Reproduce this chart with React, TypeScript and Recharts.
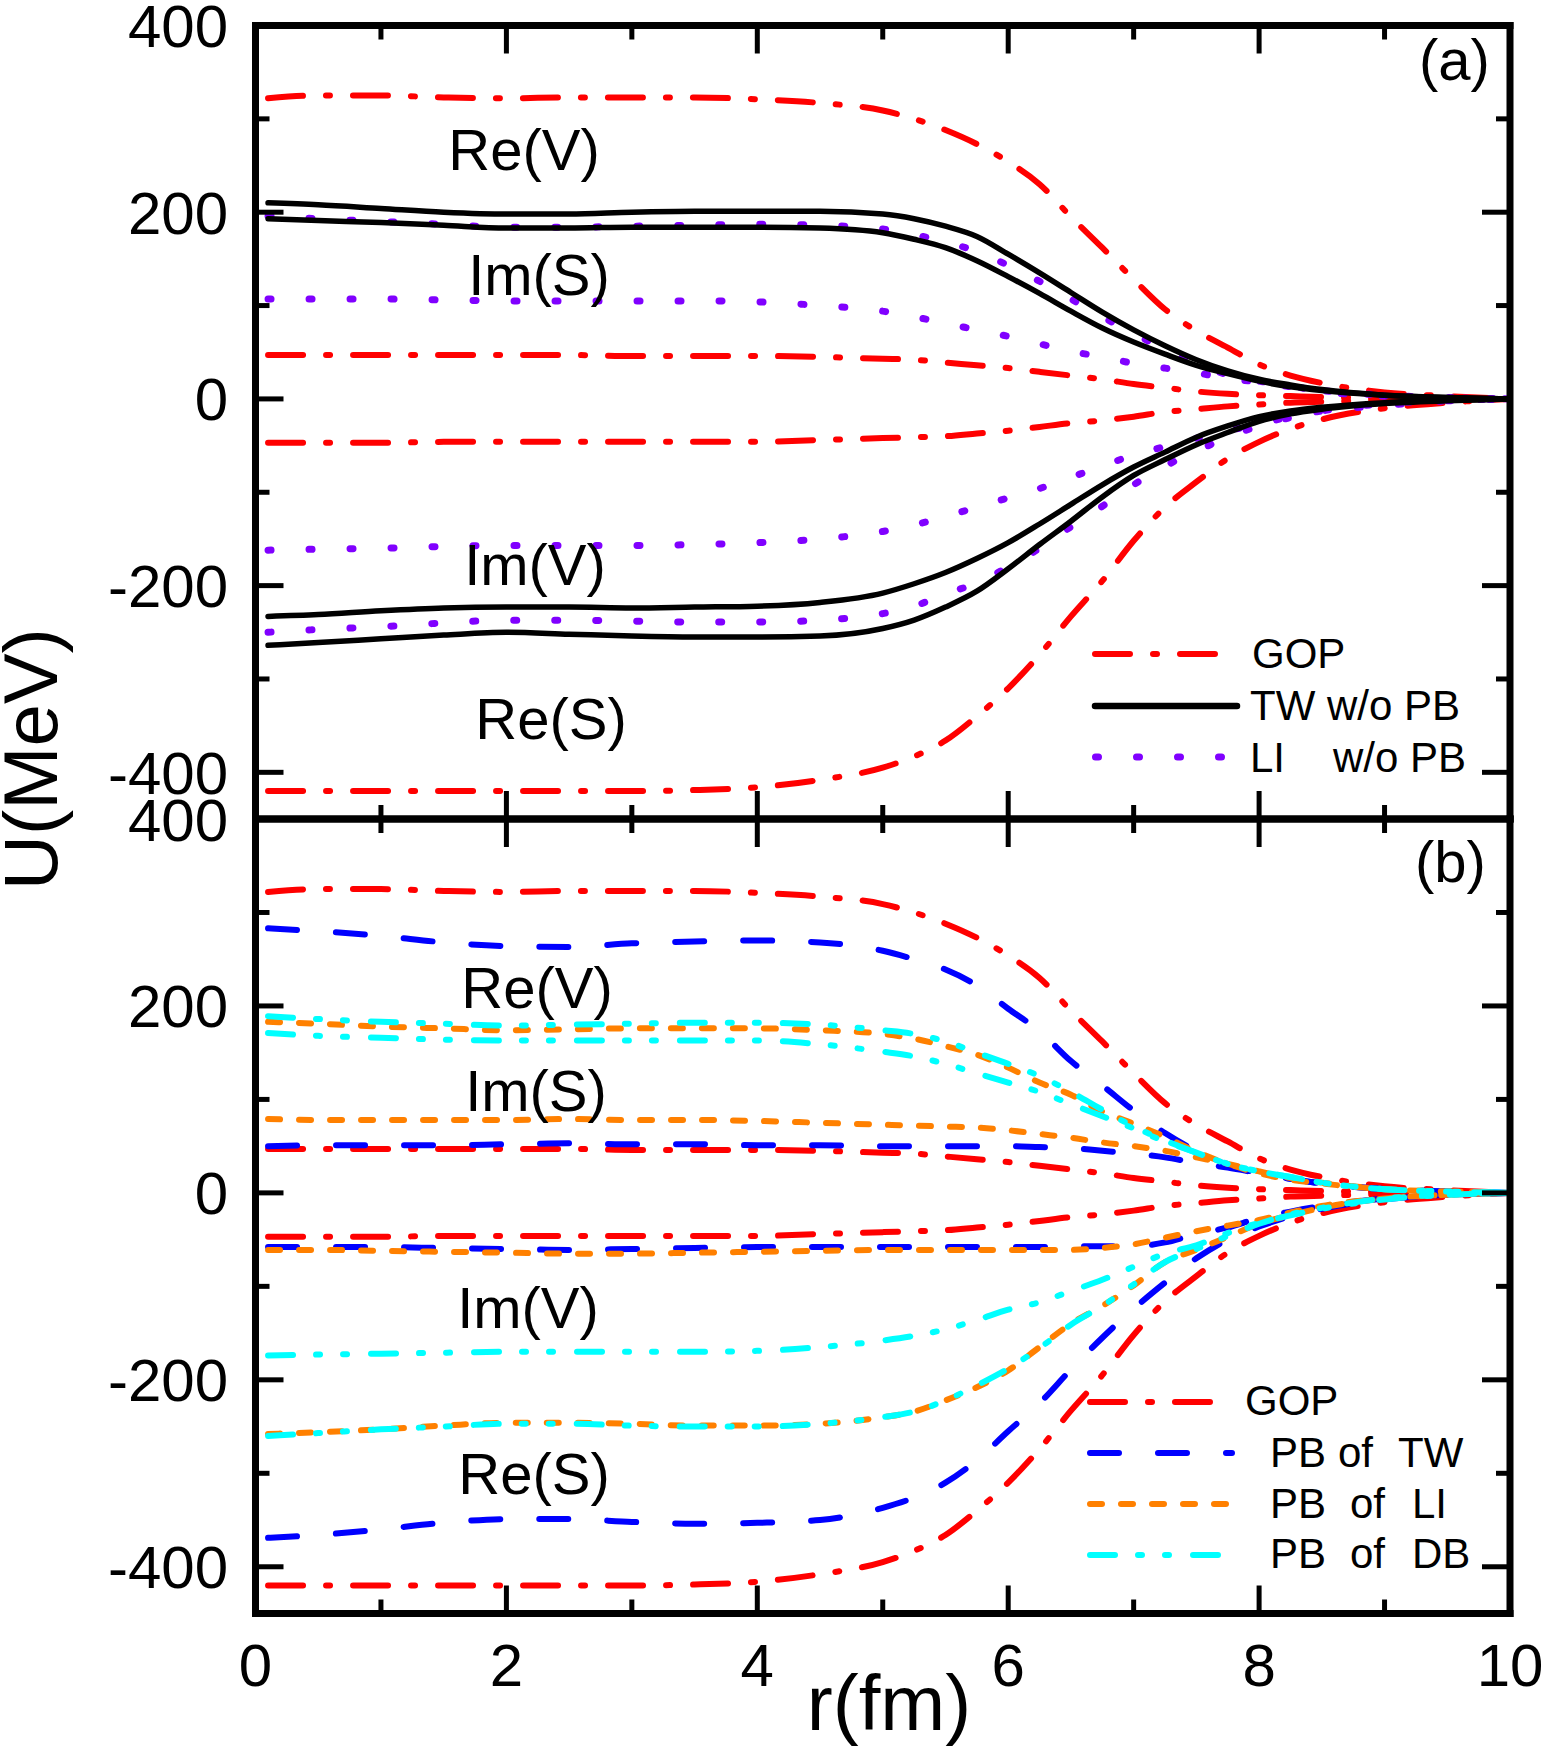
import React from 'react';
import { LineChart, Line, XAxis, YAxis } from 'recharts';

const FONT = '"Liberation Sans", Arial, Helvetica, sans-serif';

// ---------- data ----------
const rGrid = [0.1, 0.5, 1, 1.5, 2, 2.5, 3, 3.5, 4, 4.5, 5, 5.25, 5.5, 5.75, 6, 6.25, 6.5, 6.75, 7, 7.25, 7.5, 7.75, 8, 8.25, 8.5, 9, 9.5, 10];

// GOP (both panels)
const gopReV = [322, 325, 325, 323, 322, 323, 323, 323, 321, 317, 309, 300, 288, 273, 254, 230, 195, 162, 128, 96, 73, 55, 37, 25, 17, 7, 3, 0];
const gopImS = [47, 47, 47, 47, 47, 47, 46, 46, 46, 45, 43, 42, 39, 36, 33, 29, 25, 21, 16, 12, 8, 5.5, 4, 3, 2, 1, 0.5, 0];
const gopImV = [-47, -47, -47, -46, -46, -46, -46, -46, -46, -44, -42, -41, -40, -37, -34, -30, -26, -23, -19, -14, -11, -8, -6, -4, -3, -1.5, -0.5, 0];
const gopReS = [-420, -420, -420, -420, -420, -420, -420, -419, -416, -408, -395, -383, -366, -340, -310, -274, -233, -195, -152, -116, -89, -64, -46, -32, -22, -10, -4, 0];

// TW w/o PB (panel a)
const twReV = [210, 208, 204, 200, 198, 198, 200, 201, 201, 201, 198, 193, 185, 174, 155, 135, 114, 93, 74, 57, 42, 30, 21, 15, 10, 4, 1.5, 0];
const twImS = [193, 191, 189, 186, 183, 183, 184, 184, 184, 183, 178, 171, 162, 148, 131, 113, 94, 76, 61, 48, 36, 27, 19, 13, 9, 4, 1.5, 0];
const twImV = [-233, -231, -227, -224, -223, -223, -224, -223, -222, -218, -208, -198, -186, -171, -154, -134, -113, -92, -73, -57, -41, -29, -19, -13, -9, -4, -1.5, 0];
const twReS = [-264, -261, -257, -253, -250, -252, -254, -255, -255, -254, -246, -237, -223, -206, -182, -156, -131, -105, -82, -65, -49, -36, -24, -16, -11, -5, -2, 0];

// LI w/o PB (panel a)
const liReV = [196, 193, 190, 187, 184, 184, 185, 186, 187, 186, 182, 176, 168, 158, 143, 126, 107, 88, 70, 53, 37, 26, 19, 14, 8, 3, 1, 0];
const liImS = [107, 107, 107, 106, 105, 105, 105, 105, 104, 100, 94, 88, 81, 74, 67, 59, 51, 45, 38, 33, 28, 22, 18, 13, 9, 4, 1.5, 0];
const liImV = [-162, -161, -160, -158, -157, -157, -157, -156, -154, -150, -142, -135, -126, -116, -106, -96, -84, -72, -60, -51, -42, -34, -27, -19, -13, -7, -2, 0];
const liReS = [-250, -247, -244, -240, -237, -237, -238, -239, -239, -237, -230, -222, -209, -197, -180, -160, -137, -115, -92, -72, -56, -41, -29, -20, -13, -5, -2, 0];

// PB of TW (panel b)
const pbTwReV = [283, 280, 275, 268, 264, 263, 267, 269, 270, 268, 259, 250, 239, 222, 197, 173, 141, 115, 88, 64, 45, 30, 21, 15, 10, 4, 1.5, 0];
const pbTwImS = [50, 51, 51, 51, 52, 53, 52, 52, 51, 51, 50, 50, 50, 50, 50, 49, 48, 45, 42, 38, 32, 27, 21, 15, 10, 4, 1.5, 0];
const pbTwImV = [-58, -58, -58, -59, -60, -61, -60, -59, -58, -58, -58, -58, -58, -58, -58, -58, -57, -57, -57, -53, -44, -37, -27, -20, -14, -6, -2, 0];
const pbTwReS = [-369, -366, -360, -353, -349, -349, -352, -354, -353, -350, -337, -326, -310, -286, -255, -225, -189, -155, -124, -96, -70, -50, -36, -25, -17, -7, -2, 0];

// PB of LI (panel b)
const pbLiReV = [183, 181, 178, 176, 174, 175, 176, 176, 176, 174, 170, 165, 157, 148, 134, 118, 105, 87, 74, 60, 44, 31, 21, 14, 10, 4, 1.5, 0];
const pbLiImS = [79, 78, 78, 78, 78, 79, 78, 78, 77, 75, 73, 72, 71, 70, 67, 63, 59, 54, 50, 45, 38, 31, 23, 16, 11, 4, 1.5, 0];
const pbLiImV = [-61, -61, -62, -63, -64, -65, -65, -64, -63, -62, -61, -61, -61, -61, -61, -61, -61, -59, -55, -48, -41, -35, -29, -21, -14, -6, -2, 0];
const pbLiReS = [-258, -256, -253, -249, -246, -246, -247, -249, -249, -247, -240, -234, -222, -208, -190, -165, -140, -121, -99, -74, -61, -47, -33, -24, -16, -6, -2, 0];

// PB of DB (panel b)
const pbDbReV = [189, 186, 183, 181, 179, 180, 181, 182, 182, 180, 174, 170, 162, 150, 138, 125, 108, 89, 71, 56, 43, 31, 23, 17, 11, 4, 1.5, 0];
const pbDbImS = [171, 168, 166, 164, 163, 163, 163, 163, 163, 159, 151, 146, 138, 128, 118, 108, 95, 82, 69, 55, 43, 31, 23, 17, 11, 4, 1.5, 0];
const pbDbImV = [-174, -173, -172, -171, -170, -170, -170, -170, -169, -165, -158, -153, -146, -136, -125, -117, -105, -93, -79, -65, -56, -43, -32, -24, -17, -7, -2, 0];
const pbDbReS = [-260, -257, -253, -250, -247, -247, -249, -250, -250, -247, -240, -234, -222, -206, -188, -166, -141, -121, -98, -74, -60, -46, -33, -23, -16, -6, -2, 0];

const xTicks = [0, 1, 2, 3, 4, 5, 6, 7, 8, 9, 10];
const yTicks = [-400, -300, -200, -100, 0, 100, 200, 300, 400];
const yDomain: [number, number] = [-450, 400];
const xDomain: [number, number] = [0, 10];

// ---------- styles ----------
const RED = '#ff0000';
const BLACK = '#000000';
const PURPLE = '#8000ff';
const BLUE = '#0000ff';
const ORANGE = '#ff8000';
const CYAN = '#00ffff';

const DASH_GOP = '35 23 4 23';
const DASH_LI = '3 38';
const DASH_TW = '29 39';
const DASH_PBLI = '12 19';
const DASH_DB = '25 23 4 23 4 24';

type SeriesDef = { key: string; values: number[]; color: string; dash?: string; width: number };

const seriesA: SeriesDef[] = [
  { key: 'gopReV', values: gopReV, color: RED, dash: DASH_GOP, width: 6 },
  { key: 'gopImS', values: gopImS, color: RED, dash: DASH_GOP, width: 6 },
  { key: 'gopImV', values: gopImV, color: RED, dash: DASH_GOP, width: 6 },
  { key: 'gopReS', values: gopReS, color: RED, dash: DASH_GOP, width: 6 },
  { key: 'liReV', values: liReV, color: PURPLE, dash: DASH_LI, width: 7 },
  { key: 'liImS', values: liImS, color: PURPLE, dash: DASH_LI, width: 7 },
  { key: 'liImV', values: liImV, color: PURPLE, dash: DASH_LI, width: 7 },
  { key: 'liReS', values: liReS, color: PURPLE, dash: DASH_LI, width: 7 },
  { key: 'twReV', values: twReV, color: BLACK, width: 5.5 },
  { key: 'twImS', values: twImS, color: BLACK, width: 5.5 },
  { key: 'twImV', values: twImV, color: BLACK, width: 5.5 },
  { key: 'twReS', values: twReS, color: BLACK, width: 5.5 },
];

const seriesB: SeriesDef[] = [
  { key: 'gopReV', values: gopReV, color: RED, dash: DASH_GOP, width: 6 },
  { key: 'gopImS', values: gopImS, color: RED, dash: DASH_GOP, width: 6 },
  { key: 'gopImV', values: gopImV, color: RED, dash: DASH_GOP, width: 6 },
  { key: 'gopReS', values: gopReS, color: RED, dash: DASH_GOP, width: 6 },
  { key: 'pbTwReV', values: pbTwReV, color: BLUE, dash: DASH_TW, width: 6 },
  { key: 'pbTwImS', values: pbTwImS, color: BLUE, dash: DASH_TW, width: 6 },
  { key: 'pbTwImV', values: pbTwImV, color: BLUE, dash: DASH_TW, width: 6 },
  { key: 'pbTwReS', values: pbTwReS, color: BLUE, dash: DASH_TW, width: 6 },
  { key: 'pbLiReV', values: pbLiReV, color: ORANGE, dash: DASH_PBLI, width: 6 },
  { key: 'pbLiImS', values: pbLiImS, color: ORANGE, dash: DASH_PBLI, width: 6 },
  { key: 'pbLiImV', values: pbLiImV, color: ORANGE, dash: DASH_PBLI, width: 6 },
  { key: 'pbLiReS', values: pbLiReS, color: ORANGE, dash: DASH_PBLI, width: 6 },
  { key: 'pbDbReV', values: pbDbReV, color: CYAN, dash: DASH_DB, width: 6 },
  { key: 'pbDbImS', values: pbDbImS, color: CYAN, dash: DASH_DB, width: 6 },
  { key: 'pbDbImV', values: pbDbImV, color: CYAN, dash: DASH_DB, width: 6 },
  { key: 'pbDbReS', values: pbDbReS, color: CYAN, dash: DASH_DB, width: 6 },
];

// ---------- layout ----------
const W = 1541;
const H = 1747;
const PLOT_LEFT = 255.5;
const PLOT_RIGHT = 1510;
const MAJOR = 28;
const MINOR = 14;
const TICK_W = 5;
const AX_H = 20;
const YL_W = 60;
const YR_W = 20;
const axisLineStyle = { stroke: '#000', strokeWidth: 7, strokeLinecap: 'square' as const };

function LeftTick(props: any) {
  const { x, y, payload } = props;
  const v = payload.value;
  const major = v % 200 === 0;
  return (
    <g>
      <line x1={x} y1={y} x2={x + (major ? MAJOR : MINOR)} y2={y} stroke="#000" strokeWidth={TICK_W} />
      {major && (
        <text x={x - 27.5} y={y + 21.5} textAnchor="end" fontSize={60} fontFamily={FONT} fill="#000">
          {String(v)}
        </text>
      )}
    </g>
  );
}

function RightTick(props: any) {
  const { x, y, payload } = props;
  const major = payload.value % 200 === 0;
  return <line x1={x} y1={y} x2={x - (major ? MAJOR : MINOR)} y2={y} stroke="#000" strokeWidth={TICK_W} />;
}

function TopTick(props: any) {
  const { x, y, payload } = props;
  const major = payload.value % 2 === 0;
  return <line x1={x} y1={y} x2={x} y2={y + (major ? MAJOR : MINOR)} stroke="#000" strokeWidth={TICK_W} />;
}

function makeBottomTick(withLabel: boolean) {
  return function BottomTick(props: any) {
    const { x, y, payload } = props;
    const v = payload.value;
    const major = v % 2 === 0;
    return (
      <g>
        <line x1={x} y1={y} x2={x} y2={y - (major ? MAJOR : MINOR)} stroke="#000" strokeWidth={TICK_W} />
        {withLabel && major && (
          <text x={x} y={y + 72.5} textAnchor="middle" fontSize={60} fontFamily={FONT} fill="#000">
            {String(v)}
          </text>
        )}
      </g>
    );
  };
}

const BottomTickPlain = makeBottomTick(false);
const BottomTickLabeled = makeBottomTick(true);

function Panel(props: {
  top: number;
  height: number;
  plotTop: number;
  plotBottom: number;
  series: SeriesDef[];
  xLabels: boolean;
}) {
  const { top, height, plotTop, plotBottom, series, xLabels } = props;
  const data = rGrid.map((r, i) => {
    const row: Record<string, number> = { r };
    series.forEach((s) => {
      row[s.key] = s.values[i];
    });
    return row;
  });
  const margin = {
    top: plotTop - top - AX_H,
    bottom: top + height - plotBottom - AX_H,
    left: PLOT_LEFT - YL_W,
    right: W - PLOT_RIGHT - YR_W,
  };
  return (
    <div style={{ position: 'absolute', left: 0, top, width: W, height }}>
      <LineChart width={W} height={height} data={data} margin={margin}>
        <XAxis
          xAxisId="b"
          type="number"
          dataKey="r"
          domain={xDomain}
          ticks={xTicks}
          interval={0}
          orientation="bottom"
          height={AX_H}
          tickSize={0}
          tickMargin={0}
          tickLine={false}
          axisLine={axisLineStyle}
          tick={xLabels ? BottomTickLabeled : BottomTickPlain}
          allowDataOverflow
        />
        <XAxis
          xAxisId="t"
          type="number"
          dataKey="r"
          domain={xDomain}
          ticks={xTicks}
          interval={0}
          orientation="top"
          height={AX_H}
          tickSize={0}
          tickMargin={0}
          tickLine={false}
          axisLine={axisLineStyle}
          tick={TopTick}
          allowDataOverflow
        />
        <YAxis
          yAxisId="l"
          type="number"
          domain={yDomain}
          ticks={yTicks}
          interval={0}
          orientation="left"
          width={YL_W}
          tickSize={0}
          tickMargin={0}
          tickLine={false}
          axisLine={axisLineStyle}
          tick={LeftTick}
          allowDataOverflow
        />
        <YAxis
          yAxisId="r"
          type="number"
          domain={yDomain}
          ticks={yTicks}
          interval={0}
          orientation="right"
          width={YR_W}
          tickSize={0}
          tickMargin={0}
          tickLine={false}
          axisLine={axisLineStyle}
          tick={RightTick}
          allowDataOverflow
        />
        {series.map((s) => (
          <Line
            key={s.key}
            xAxisId="b"
            yAxisId="l"
            type="monotone"
            dataKey={s.key}
            stroke={s.color}
            strokeWidth={s.width}
            strokeDasharray={s.dash}
            strokeLinecap="round"
            dot={false}
            activeDot={false}
            isAnimationActive={false}
          />
        ))}
      </LineChart>
    </div>
  );
}

const txt = { fontFamily: FONT, fill: '#000' };

function Overlay() {
  return (
    <svg
      width={W}
      height={H}
      style={{ position: 'absolute', left: 0, top: 0, pointerEvents: 'none', overflow: 'visible' }}
    >
      {/* curve-group labels, panel a */}
      <text x={524} y={170} textAnchor="middle" fontSize={58} {...txt}>Re(V)</text>
      <text x={539} y={295} textAnchor="middle" fontSize={58} {...txt}>Im(S)</text>
      <text x={535} y={585} textAnchor="middle" fontSize={58} {...txt}>Im(V)</text>
      <text x={551} y={739} textAnchor="middle" fontSize={58} {...txt}>Re(S)</text>
      {/* panel b */}
      <text x={537} y={1008} textAnchor="middle" fontSize={58} {...txt}>Re(V)</text>
      <text x={536} y={1111} textAnchor="middle" fontSize={58} {...txt}>Im(S)</text>
      <text x={528} y={1328} textAnchor="middle" fontSize={58} {...txt}>Im(V)</text>
      <text x={534} y={1494} textAnchor="middle" fontSize={58} {...txt}>Re(S)</text>

      <text x={1419} y={80} fontSize={58} {...txt}>(a)</text>
      <text x={1415} y={882} fontSize={58} {...txt}>(b)</text>

      {/* axis titles */}
      <text transform="translate(57,759) rotate(-90)" textAnchor="middle" fontSize={76} {...txt}>U(MeV)</text>
      <text x={889} y={1730} textAnchor="middle" fontSize={78} {...txt}>r(fm)</text>

      {/* legend a */}
      <line x1={1095} y1={654} x2={1215} y2={654} stroke={RED} strokeWidth={6} strokeDasharray={DASH_GOP} strokeLinecap="round" />
      <text x={1252} y={668} fontSize={42} {...txt}>GOP</text>
      <line x1={1095} y1={706} x2={1237} y2={706} stroke={BLACK} strokeWidth={6.5} strokeLinecap="round" />
      <text x={1250} y={720} fontSize={42} {...txt}>TW w/o PB</text>
      <line x1={1095.5} y1={757} x2={1222} y2={757} stroke={PURPLE} strokeWidth={7} strokeDasharray={DASH_LI} strokeLinecap="round" />
      <text x={1250} y={772} fontSize={42} {...txt}>LI</text>
      <text x={1333} y={772} fontSize={42} {...txt}>w/o PB</text>

      {/* legend b */}
      <line x1={1090} y1={1402} x2={1210} y2={1402} stroke={RED} strokeWidth={6} strokeDasharray={DASH_GOP} strokeLinecap="round" />
      <text x={1245} y={1415} fontSize={42} {...txt}>GOP</text>
      <line x1={1090} y1={1453} x2={1232} y2={1453} stroke={BLUE} strokeWidth={6} strokeDasharray={DASH_TW} strokeLinecap="round" />
      <text x={1270} y={1467} fontSize={42} {...txt}>PB</text>
      <text x={1338} y={1467} fontSize={42} {...txt}>of</text>
      <text x={1398} y={1467} fontSize={42} {...txt}>TW</text>
      <line x1={1090} y1={1504} x2={1226} y2={1504} stroke={ORANGE} strokeWidth={6} strokeDasharray={DASH_PBLI} strokeLinecap="round" />
      <text x={1270} y={1518} fontSize={42} {...txt}>PB</text>
      <text x={1350} y={1518} fontSize={42} {...txt}>of</text>
      <text x={1412} y={1518} fontSize={42} {...txt}>LI</text>
      <line x1={1090} y1={1555} x2={1218} y2={1555} stroke={CYAN} strokeWidth={6} strokeDasharray={DASH_DB} strokeLinecap="round" />
      <text x={1270} y={1568} fontSize={42} {...txt}>PB</text>
      <text x={1350} y={1568} fontSize={42} {...txt}>of</text>
      <text x={1412} y={1568} fontSize={42} {...txt}>DB</text>
    </svg>
  );
}

export default function App() {
  return (
    <div style={{ position: 'absolute', left: 0, top: 0, width: W, height: H, background: '#fff', overflow: 'hidden' }}>
      <Panel top={0} height={870} plotTop={25.5} plotBottom={819} series={seriesA} xLabels={false} />
      <Panel top={760} height={987} plotTop={819} plotBottom={1613.5} series={seriesB} xLabels={true} />
      <Overlay />
    </div>
  );
}
